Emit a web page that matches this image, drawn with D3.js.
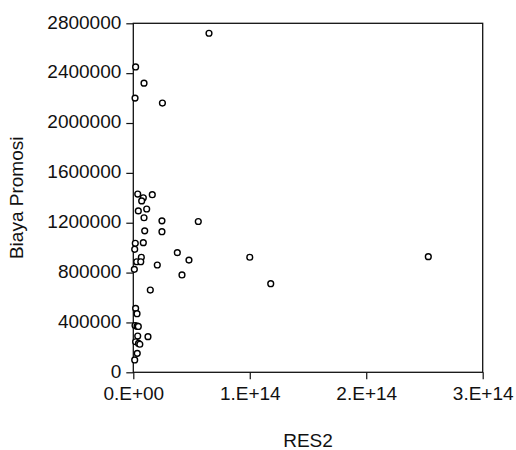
<!DOCTYPE html>
<html lang="en">
<head>
    <meta charset="UTF-8">
    <title>RES2 vs Biaya Promosi</title>
    <script src="https://d3js.org/d3.v7.min.js"></script>
    <style>
        body { margin: 0; background: #fff; }
        text { font-family: "Liberation Sans", Arial, sans-serif; fill: #111; }
    </style>
</head>
<body>
<svg width="516" height="450"></svg>
<script>
    // values
    const res2 = [6.5e13, 2.0e12, 9.2e12, 1.5e12, 2.5e13, 3.8e12, 1.63e13, 8.6e12, 7.2e12, 4.3e12,
        1.15e13, 9.2e12, 2.46e13, 5.58e13, 9.8e12, 2.46e13, 1.7e12, 8.6e12, 1.2e12, 3.78e13,
        1.0e14, 6.9e12, 4.78e13, 2.9e12, 6.4e12, 2.06e13, 0.9e12, 4.18e13, 1.46e13, 2.0e12,
        3.2e12, 1.5e12, 3.2e12, 4.3e12, 1.26e13, 3.8e12, 2.0e12, 4.5e12, 5.6e12, 3.4e12,
        1.2e12, 1.18e14, 2.533e14];
    const biaya = [2720000, 2450000, 2320000, 2200000, 2160000, 1430000, 1425000, 1400000, 1375000, 1295000,
        1310000, 1240000, 1215000, 1210000, 1135000, 1128000, 1035000, 1040000, 987000, 960000,
        923000, 923000, 900000, 887000, 887000, 861000, 826000, 781000, 660000, 513000,
        470000, 375000, 370000, 368000, 286000, 291000, 245000, 232000, 225000, 152000,
        99000, 711000, 928000];
    const xTicks = [0, 1e14, 2e14, 3e14];
    const xTickLabels = ["0.E+00", "1.E+14", "2.E+14", "3.E+14"];
    const yTicks = [0, 400000, 800000, 1200000, 1600000, 2000000, 2400000, 2800000];

    const svg = d3.select("svg");
    const mLeft = 133.3, mRight = 482.7, mTop = 23.3, mBottom = 372.3;

    const x = d3.scaleLinear().domain([0, 3e14]).range([mLeft, mRight]);
    const y = d3.scaleLinear().domain([0, 2800000]).range([mBottom, mTop]);

    // x axis
    const gx = svg.append("g")
        .attr("transform", "translate(0," + mBottom + ")")
        .call(d3.axisBottom(x).tickValues(xTicks)
            .tickFormat((d, i) => xTickLabels[i]).tickSize(7).tickPadding(7));
    // y axis
    const gy = svg.append("g")
        .attr("transform", "translate(" + mLeft + ",0)")
        .call(d3.axisLeft(y).tickValues(yTicks).tickFormat(d3.format("d")).tickSize(7).tickPadding(5));

    [gx, gy].forEach(g => {
        g.select(".domain").remove();
        g.selectAll("line").attr("stroke", "#111").attr("stroke-width", 1.2);
        g.selectAll("text").style("font-size", "19px").attr("fill", "#111");
    });
    gy.selectAll("text").attr("dy", "0.25em");

    // frame
    svg.append("rect")
        .attr("x", mLeft).attr("y", mTop)
        .attr("width", mRight - mLeft).attr("height", mBottom - mTop)
        .attr("fill", "none").attr("stroke", "#111").attr("stroke-width", 1.3);

    // points
    svg.append("g").selectAll("circle")
        .data(res2.map((v, i) => [v, biaya[i]]))
        .join("circle")
        .attr("cx", d => x(d[0]))
        .attr("cy", d => y(d[1]))
        .attr("r", 2.9)
        .attr("fill", "white")
        .attr("stroke", "#000")
        .attr("stroke-width", 1.4);

    // axis titles
    svg.append("text")
        .attr("x", (mLeft + mRight) / 2).attr("y", 447)
        .attr("text-anchor", "middle")
        .style("font-size", "19px")
        .text("RES2");
    svg.append("text")
        .attr("transform", "translate(23," + ((mTop + mBottom) / 2) + ") rotate(-90)")
        .attr("text-anchor", "middle")
        .style("font-size", "19px")
        .text("Biaya Promosi");
</script>
</body>
</html>
